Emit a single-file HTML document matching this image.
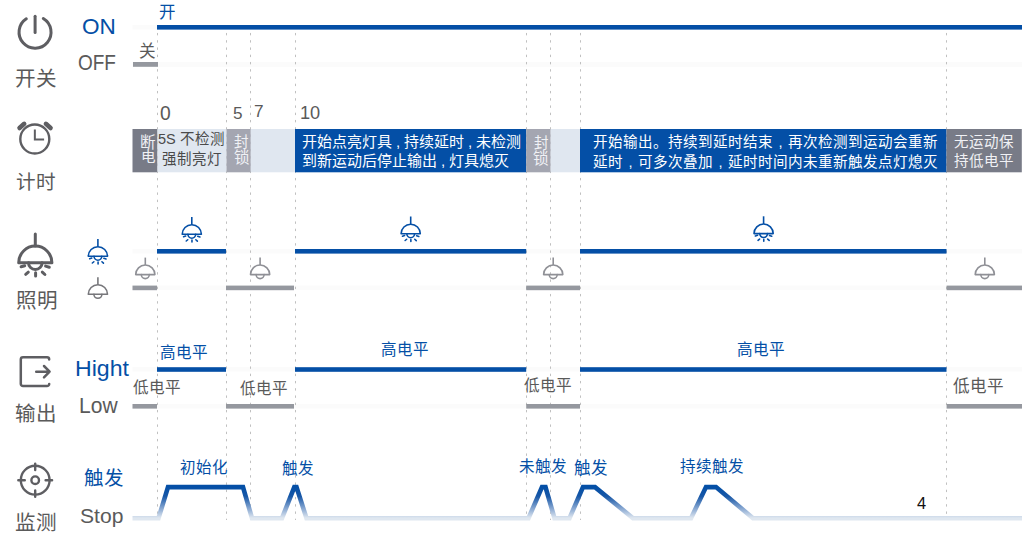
<!DOCTYPE html>
<html lang="zh-CN"><head><meta charset="utf-8">
<style>
html,body{margin:0;padding:0;background:#fff;}
body{width:1033px;height:542px;position:relative;overflow:hidden;font-family:"Liberation Sans",sans-serif;}
svg{position:absolute;left:0;top:0;}
.t{position:absolute;white-space:nowrap;line-height:1;transform-origin:0 0;}
.cm{display:inline-block;width:12px;text-align:center}
.cm2{display:inline-block;width:15px;text-align:center}
</style></head><body>
<svg width="1033" height="542" viewBox="0 0 1033 542">
<rect x="132.5" y="25" width="889.5" height="4.5" fill="#fbfbfb"/>
<rect x="132.5" y="62" width="889.5" height="5" fill="#fbfbfb"/>
<rect x="132.5" y="249" width="889.5" height="4.5" fill="#fbfbfb"/>
<rect x="132.5" y="285.5" width="889.5" height="4.5" fill="#fbfbfb"/>
<rect x="132.5" y="367" width="889.5" height="4.5" fill="#fbfbfb"/>
<rect x="132.5" y="404" width="889.5" height="4.5" fill="#fbfbfb"/>
<line x1="157.5" y1="27" x2="157.5" y2="520" stroke="#c0c0c0" stroke-width="1" stroke-dasharray="2.4 4.85" stroke-dashoffset="1.3"/>
<line x1="226.5" y1="27" x2="226.5" y2="520" stroke="#c0c0c0" stroke-width="1" stroke-dasharray="2.4 4.85" stroke-dashoffset="1.3"/>
<line x1="250.5" y1="27" x2="250.5" y2="520" stroke="#c0c0c0" stroke-width="1" stroke-dasharray="2.4 4.85" stroke-dashoffset="1.3"/>
<line x1="295.5" y1="27" x2="295.5" y2="520" stroke="#c0c0c0" stroke-width="1" stroke-dasharray="2.4 4.85" stroke-dashoffset="1.3"/>
<line x1="526.5" y1="27" x2="526.5" y2="520" stroke="#c0c0c0" stroke-width="1" stroke-dasharray="2.4 4.85" stroke-dashoffset="1.3"/>
<line x1="550.5" y1="27" x2="550.5" y2="520" stroke="#c0c0c0" stroke-width="1" stroke-dasharray="2.4 4.85" stroke-dashoffset="1.3"/>
<line x1="580.5" y1="27" x2="580.5" y2="520" stroke="#c0c0c0" stroke-width="1" stroke-dasharray="2.4 4.85" stroke-dashoffset="1.3"/>
<line x1="946.5" y1="27" x2="946.5" y2="520" stroke="#c0c0c0" stroke-width="1" stroke-dasharray="2.4 4.85" stroke-dashoffset="1.3"/>
<rect x="132.5" y="129" width="25" height="43.3" fill="#787b87"/>
<rect x="157.5" y="129" width="69" height="43.3" fill="#e0e7f0"/>
<rect x="226.5" y="129" width="24.3" height="43.3" fill="#a4a6b1"/>
<rect x="250.8" y="129" width="44.2" height="43.3" fill="#e0e7f0"/>
<rect x="295" y="129" width="231.2" height="43.3" fill="#044fa6"/>
<rect x="526.2" y="129" width="24.5" height="43.3" fill="#a4a6b1"/>
<rect x="550.7" y="129" width="29.3" height="43.3" fill="#e0e7f0"/>
<rect x="580" y="129" width="366.5" height="43.3" fill="#044fa6"/>
<rect x="946.5" y="129" width="75.3" height="43.3" fill="#787b87"/>
<rect x="157" y="25" width="865" height="4.6" fill="#044fa6"/>
<rect x="133" y="62" width="25" height="4.8" fill="#95989f"/>
<rect x="157" y="249" width="69" height="4.6" fill="#044fa6"/>
<rect x="295" y="249" width="231.2" height="4.6" fill="#044fa6"/>
<rect x="580" y="249" width="366.5" height="4.6" fill="#044fa6"/>
<rect x="132.5" y="285.6" width="24.5" height="4.6" fill="#95989f"/>
<rect x="226" y="285.6" width="68" height="4.6" fill="#95989f"/>
<rect x="526.2" y="285.6" width="53.8" height="4.6" fill="#95989f"/>
<rect x="946.6" y="285.6" width="75.4" height="4.6" fill="#95989f"/>
<rect x="157" y="367.2" width="69" height="4.6" fill="#044fa6"/>
<rect x="295" y="367.2" width="231.2" height="4.6" fill="#044fa6"/>
<rect x="580" y="367.2" width="366.5" height="4.6" fill="#044fa6"/>
<rect x="132.5" y="404" width="24.5" height="4.6" fill="#95989f"/>
<rect x="226" y="404" width="68" height="4.6" fill="#95989f"/>
<rect x="526.2" y="404" width="53.8" height="4.6" fill="#95989f"/>
<rect x="946.6" y="404" width="75.4" height="4.6" fill="#95989f"/>
<defs><linearGradient id="wg" gradientUnits="userSpaceOnUse" x1="0" y1="487" x2="0" y2="518"><stop offset="0" stop-color="#044fa6"/><stop offset="0.3" stop-color="#1757a7"/><stop offset="0.7" stop-color="#8aa9d2"/><stop offset="1" stop-color="#dfe7f0"/></linearGradient></defs>
<path d="M132.5,518.2 H158.5 L168,487.1 H243 L252,518.2 H282 L294.3,487.1 H296.5 L306.5,518.2 H528.5 L542,487.1 H545.5 L554.5,518.2 H569.5 L583,487.1 H595 L633,518.2 H691 L706,487.1 H716 L753,518.2 H1022" fill="none" stroke="url(#wg)" stroke-width="4.6" stroke-linejoin="miter" stroke-miterlimit="3"/>
<g fill="none" stroke="#5e5e62" stroke-width="3" stroke-linecap="round"><path d="M35.3,234.0 V246.1" stroke-linecap="round"/><path d="M18.699999999999996,262.7 A16.6,16.6 0 0 1 51.9,262.7 Z" stroke-linejoin="round"/><path d="M28.499999999999996,262.7 A6.8,6.8 0 0 0 42.099999999999994,262.7"/><path d="M21.10,266.80 L24.70,265.70 M45.60,266.10 L49.30,267.20 M25.70,274.30 L28.30,272.10 M35.60,272.70 L35.60,276.00 M42.30,272.10 L44.90,274.50"/></g>
<g fill="none" stroke="#044fa6" stroke-width="1.6" stroke-linecap="round"><path d="M97.9,239.0 V246.70000000000002" stroke-linecap="butt"/><path d="M88.30000000000001,256.3 A9.6,9.6 0 0 1 107.5,256.3 Z" stroke-linejoin="round"/><path d="M94.0,256.3 A3.9,3.9 0 0 0 101.80000000000001,256.3"/><path d="M89.69,258.67 L91.77,258.03 M103.86,258.27 L106.00,258.90 M92.35,263.01 L93.85,261.74 M98.07,262.08 L98.07,263.99 M101.95,261.74 L103.45,263.12"/></g>
<g fill="none" stroke="#77777b" stroke-width="1.6" stroke-linecap="round"><path d="M97.9,277.3 V284.7" stroke-linecap="butt"/><path d="M88.30000000000001,294.3 A9.6,9.6 0 0 1 107.5,294.3 Z" stroke-linejoin="round"/><path d="M93.9,294.3 A4,4 0 0 0 101.9,294.3"/></g>
<g fill="none" stroke="#044fa6" stroke-width="1.6" stroke-linecap="round"><path d="M191.8,217.0 V224.70000000000002" stroke-linecap="butt"/><path d="M182.20000000000002,234.3 A9.6,9.6 0 0 1 201.4,234.3 Z" stroke-linejoin="round"/><path d="M187.9,234.3 A3.9,3.9 0 0 0 195.70000000000002,234.3"/><path d="M183.59,236.67 L185.67,236.03 M197.76,236.27 L199.90,236.90 M186.25,241.01 L187.75,239.74 M191.97,240.08 L191.97,241.99 M195.85,239.74 L197.35,241.12"/></g>
<g fill="none" stroke="#044fa6" stroke-width="1.6" stroke-linecap="round"><path d="M410.7,216.5 V224.20000000000002" stroke-linecap="butt"/><path d="M401.09999999999997,233.8 A9.6,9.6 0 0 1 420.3,233.8 Z" stroke-linejoin="round"/><path d="M406.8,233.8 A3.9,3.9 0 0 0 414.59999999999997,233.8"/><path d="M402.49,236.17 L404.57,235.53 M416.66,235.77 L418.80,236.40 M405.15,240.51 L406.65,239.24 M410.87,239.58 L410.87,241.49 M414.75,239.24 L416.25,240.62"/></g>
<g fill="none" stroke="#044fa6" stroke-width="1.6" stroke-linecap="round"><path d="M763.6,216.29999999999998 V224.0" stroke-linecap="butt"/><path d="M754.0,233.6 A9.6,9.6 0 0 1 773.2,233.6 Z" stroke-linejoin="round"/><path d="M759.7,233.6 A3.9,3.9 0 0 0 767.5,233.6"/><path d="M755.39,235.97 L757.47,235.33 M769.56,235.57 L771.70,236.20 M758.05,240.31 L759.55,239.04 M763.77,239.38 L763.77,241.29 M767.65,239.04 L769.15,240.42"/></g>
<g fill="none" stroke="#8f9096" stroke-width="1.6" stroke-linecap="round"><path d="M145.3,257.6 V265.0" stroke-linecap="butt"/><path d="M135.70000000000002,274.6 A9.6,9.6 0 0 1 154.9,274.6 Z" stroke-linejoin="round"/><path d="M141.3,274.6 A4,4 0 0 0 149.3,274.6"/></g>
<g fill="none" stroke="#8f9096" stroke-width="1.6" stroke-linecap="round"><path d="M260.1,257.6 V265.0" stroke-linecap="butt"/><path d="M250.50000000000003,274.6 A9.6,9.6 0 0 1 269.70000000000005,274.6 Z" stroke-linejoin="round"/><path d="M256.1,274.6 A4,4 0 0 0 264.1,274.6"/></g>
<g fill="none" stroke="#8f9096" stroke-width="1.6" stroke-linecap="round"><path d="M553.2,257.6 V265.0" stroke-linecap="butt"/><path d="M543.6,274.6 A9.6,9.6 0 0 1 562.8000000000001,274.6 Z" stroke-linejoin="round"/><path d="M549.2,274.6 A4,4 0 0 0 557.2,274.6"/></g>
<g fill="none" stroke="#8f9096" stroke-width="1.6" stroke-linecap="round"><path d="M984.8,257.6 V265.0" stroke-linecap="butt"/><path d="M975.1999999999999,274.6 A9.6,9.6 0 0 1 994.4,274.6 Z" stroke-linejoin="round"/><path d="M980.8,274.6 A4,4 0 0 0 988.8,274.6"/></g>
<g fill="none" stroke="#5e5e62" stroke-width="3" stroke-linecap="round"><path d="M26.3,18.8 A16,16 0 1 0 43.3,18.5"/><path d="M35.1,16.2 V32.6"/></g>
<g fill="none" stroke="#5e5e62" stroke-linecap="round"><circle cx="34.8" cy="139" r="14.5" stroke-width="2.4"/><path d="M34.85,129.6 V139.5 H44.1" stroke-width="2" stroke-linecap="butt"/></g><path d="M19.5,128 L24.2,123.8 M45.9,123.8 L50.6,128" stroke="#5e5e62" stroke-width="4.5" stroke-linecap="round"/>
<g fill="none" stroke="#5e5e62" stroke-width="2.5" stroke-linecap="round" stroke-linejoin="round"><path d="M49.2,359.4 A2.2,2.2 0 0 0 47,357.3 H23 A2.2,2.2 0 0 0 20.8,359.5 V383.9 A2.2,2.2 0 0 0 23,386.1 H47 A2.2,2.2 0 0 0 49.2,383.9"/><path d="M36.2,371.7 H49.4 M44,366 L49.6,371.7 L44,377.4"/></g>
<g fill="none" stroke="#5e5e62" stroke-width="2.4" stroke-linecap="round"><circle cx="35.2" cy="480.2" r="14.4"/><circle cx="35.2" cy="480.2" r="3.8"/><path d="M35.2,463.6 V470 M35.2,490.4 V496.8 M18.3,480.2 H24.8 M45.6,480.2 H52.1"/></g>
</svg>
<div class="t" style="left:15.0px;top:69.0px;font-size:20.59px;color:#5a5a5a">开关</div>
<div class="t" style="left:16.0px;top:173.0px;font-size:19.59px;color:#5a5a5a">计时</div>
<div class="t" style="left:16.0px;top:291.0px;font-size:20.57px;color:#5a5a5a">照明</div>
<div class="t" style="left:15.0px;top:404.0px;font-size:20.52px;color:#5a5a5a">输出</div>
<div class="t" style="left:15.0px;top:513.0px;font-size:20.61px;color:#5a5a5a">监测</div>
<div class="t" style="left:82.0px;top:16.0px;font-size:21.19px;color:#044fa6;transform:scaleX(1.063)">ON</div>
<div class="t" style="left:78.0px;top:52.0px;font-size:21.20px;color:#5a5a5a;transform:scaleX(0.896)">OFF</div>
<div class="t" style="left:75.0px;top:358.0px;font-size:21.57px;color:#044fa6;transform:scaleX(1.071)">Hight</div>
<div class="t" style="left:79.0px;top:394.0px;font-size:22.86px;color:#5a5a5a;transform:scaleX(0.921)">Low</div>
<div class="t" style="left:84.0px;top:469.0px;font-size:19.50px;color:#044fa6">触发</div>
<div class="t" style="left:80.0px;top:506.0px;font-size:20.14px;color:#5a5a5a;transform:scaleX(1.047)">Stop</div>
<div class="t" style="left:159.0px;top:4.0px;font-size:16.51px;color:#044fa6">开</div>
<div class="t" style="left:139.0px;top:44.0px;font-size:16.60px;color:#5a5a5a">关</div>
<div class="t" style="left:160.0px;top:104.0px;font-size:19.29px;color:#5a5a5a">0</div>
<div class="t" style="left:233.0px;top:105.0px;font-size:17.17px;color:#5a5a5a">5</div>
<div class="t" style="left:254.0px;top:103.0px;font-size:17.19px;color:#5a5a5a">7</div>
<div class="t" style="left:300.0px;top:104.0px;font-size:18.19px;color:#5a5a5a">10</div>
<div class="t" style="left:140.0px;top:135.0px;font-size:15.56px;color:#f0f1f5">断</div>
<div class="t" style="left:141.0px;top:150.0px;font-size:14.52px;color:#f0f1f5">电</div>
<div class="t" style="left:158.0px;top:132.0px;font-size:14.53px;color:#4a4a4a">5S 不检测</div>
<div class="t" style="left:162.0px;top:152.0px;font-size:14.52px;color:#4a4a4a">强制亮灯</div>
<div class="t" style="left:234.0px;top:135.0px;font-size:14.55px;color:#f0f1f5">封</div>
<div class="t" style="left:234.0px;top:150.0px;font-size:15.53px;color:#f0f1f5">锁</div>
<div class="t" style="left:534.0px;top:136.0px;font-size:14.54px;color:#f0f1f5">封</div>
<div class="t" style="left:533.0px;top:151.0px;font-size:15.60px;color:#f0f1f5">锁</div>
<div class="t" style="left:302.0px;top:134.0px;font-size:15.00px;color:#ffffff">开始点亮灯具<span class="cm">,</span>持续延时<span class="cm">,</span>未检测</div>
<div class="t" style="left:302.0px;top:153.0px;font-size:15.00px;color:#ffffff">到新运动后停止输出<span class="cm">,</span>灯具熄灭</div>
<div class="t" style="left:593.0px;top:135.0px;font-size:14.56px;color:#ffffff">开始输出。持续到延时结束<span class="cm2">,</span>再次检测到运动会重新</div>
<div class="t" style="left:593.0px;top:155.0px;font-size:14.59px;color:#ffffff">延时<span class="cm2">,</span>可多次叠加<span class="cm2">,</span>延时时间内未重新触发点灯熄灭</div>
<div class="t" style="left:954.0px;top:135.0px;font-size:14.52px;color:#f0f1f5">无运动保</div>
<div class="t" style="left:954.0px;top:154.0px;font-size:14.54px;color:#f0f1f5">持低电平</div>
<div class="t" style="left:160.0px;top:345.0px;font-size:15.59px;color:#044fa6">高电平</div>
<div class="t" style="left:133.0px;top:380.0px;font-size:15.59px;color:#5a5a5a">低电平</div>
<div class="t" style="left:240.0px;top:381.0px;font-size:15.54px;color:#5a5a5a">低电平</div>
<div class="t" style="left:381.0px;top:342.0px;font-size:15.52px;color:#044fa6">高电平</div>
<div class="t" style="left:524.0px;top:378.0px;font-size:15.62px;color:#5a5a5a">低电平</div>
<div class="t" style="left:737.0px;top:342.0px;font-size:15.61px;color:#044fa6">高电平</div>
<div class="t" style="left:953.0px;top:379.0px;font-size:16.60px;color:#5a5a5a">低电平</div>
<div class="t" style="left:180.0px;top:460.0px;font-size:15.51px;color:#044fa6">初始化</div>
<div class="t" style="left:282.0px;top:461.0px;font-size:15.56px;color:#044fa6">触发</div>
<div class="t" style="left:519.0px;top:459.0px;font-size:15.58px;color:#044fa6">未触发</div>
<div class="t" style="left:574.0px;top:461.0px;font-size:16.57px;color:#044fa6">触发</div>
<div class="t" style="left:680.0px;top:459.0px;font-size:15.56px;color:#044fa6">持续触发</div>
<div class="t" style="left:917.0px;top:495.0px;font-size:16.46px;color:#111111">4</div>
</body></html>
